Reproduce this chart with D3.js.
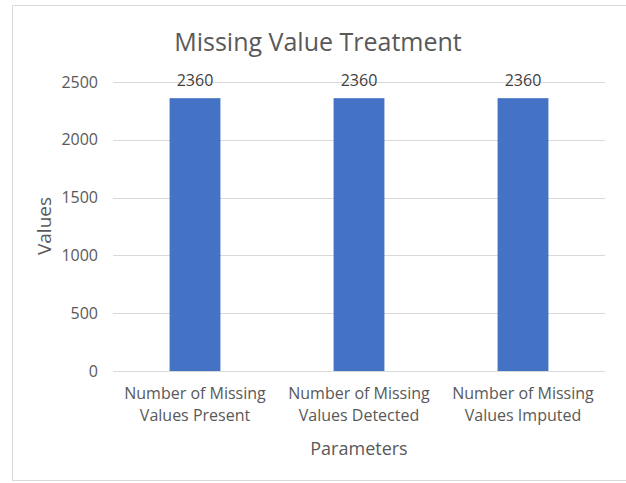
<!DOCTYPE html>
<html>
<head>
<meta charset="utf-8">
<script src="https://cdn.jsdelivr.net/npm/d3@7"></script>
<style>
  html, body { margin: 0; padding: 0; background: #fff; overflow: hidden; }
  svg { display: block; font-family: "Open Sans", "Noto Sans", sans-serif; }
</style>
</head>
<body>
<svg></svg>
<script>
const categories = [
    ["Number of Missing", "Values Present"],
    ["Number of Missing", "Values Detected"],
    ["Number of Missing", "Values Imputed"]
];
const values = [2360, 2360, 2360];
const yTicks = [0, 500, 1000, 1500, 2000, 2500];
const title = "Missing Value Treatment";
const xTitle = "Parameters";
const yTitle = "Values";

const width = 626;
const height = 483;
const margin = { top: 82, right: 21, bottom: 112, left: 113 };
const innerWidth = width - margin.left - margin.right;
const innerHeight = height - margin.top - margin.bottom;
const textColor = "#595959";

const svg = d3.select("svg")
    .attr("width", width)
    .attr("height", height);

// chart frame (left, top and bottom edges only, as in the screenshot)
svg.append("path")
    .attr("d", `M${width},5.5 H12.5 V480.5 H${width}`)
    .attr("fill", "none")
    .attr("stroke", "#d9d9d9")
    .attr("stroke-width", 1);

const g = svg.append("g")
    .attr("transform", `translate(${margin.left}, ${margin.top})`);

const xScale = d3.scaleBand()
    .domain(d3.range(categories.length))
    .range([0, innerWidth])
    .paddingInner(0.69)
    .paddingOuter(0.345);

const yScale = d3.scaleLinear()
    .domain([0, 2500])
    .range([innerHeight, 0]);

// gridlines
g.selectAll("line.grid")
    .data(yTicks)
    .enter()
    .append("line")
    .attr("class", "grid")
    .attr("x1", 0)
    .attr("x2", innerWidth)
    .attr("y1", d => Math.round(yScale(d)) + 0.5)
    .attr("y2", d => Math.round(yScale(d)) + 0.5)
    .attr("stroke", "#d9d9d9")
    .attr("stroke-width", 1);

// y tick labels
g.selectAll("text.ytick")
    .data(yTicks)
    .enter()
    .append("text")
    .attr("class", "ytick")
    .attr("x", -15)
    .attr("y", d => yScale(d))
    .attr("dy", "0.35em")
    .attr("text-anchor", "end")
    .attr("font-size", "16px")
    .attr("fill", textColor)
    .text(d => d);

// bars
g.selectAll("rect")
    .data(values)
    .enter()
    .append("rect")
    .attr("x", (d, i) => xScale(i))
    .attr("y", d => yScale(d))
    .attr("width", xScale.bandwidth())
    .attr("height", d => innerHeight - yScale(d))
    .attr("fill", "#4472C4");

// value labels
g.selectAll("text.val")
    .data(values)
    .enter()
    .append("text")
    .attr("class", "val")
    .attr("x", (d, i) => xScale(i) + xScale.bandwidth() / 2)
    .attr("y", d => yScale(d) - 12)
    .attr("text-anchor", "middle")
    .attr("font-size", "16px")
    .attr("fill", "#404040")
    .text(d => d);

// category labels
const cat = g.selectAll("text.cat")
    .data(categories)
    .enter()
    .append("text")
    .attr("class", "cat")
    .attr("text-anchor", "middle")
    .attr("font-size", "16px")
    .attr("fill", textColor)
    .attr("transform", (d, i) => `translate(${xScale(i) + xScale.bandwidth() / 2}, ${innerHeight + 28})`);
cat.selectAll("tspan")
    .data(d => d)
    .enter()
    .append("tspan")
    .attr("x", 0)
    .attr("y", (d, i) => i * 22)
    .text(d => d);

// title
svg.append("text")
    .attr("x", 318)
    .attr("y", 51)
    .attr("text-anchor", "middle")
    .attr("font-size", "25px")
    .attr("fill", textColor)
    .text(title);

// axis titles
svg.append("text")
    .attr("x", margin.left + innerWidth / 2)
    .attr("y", 455)
    .attr("text-anchor", "middle")
    .attr("font-size", "18px")
    .attr("fill", textColor)
    .text(xTitle);

svg.append("text")
    .attr("transform", `translate(51, 226) rotate(-90)`)
    .attr("text-anchor", "middle")
    .attr("font-size", "19px")
    .attr("fill", textColor)
    .text(yTitle);
</script>
</body>
</html>
